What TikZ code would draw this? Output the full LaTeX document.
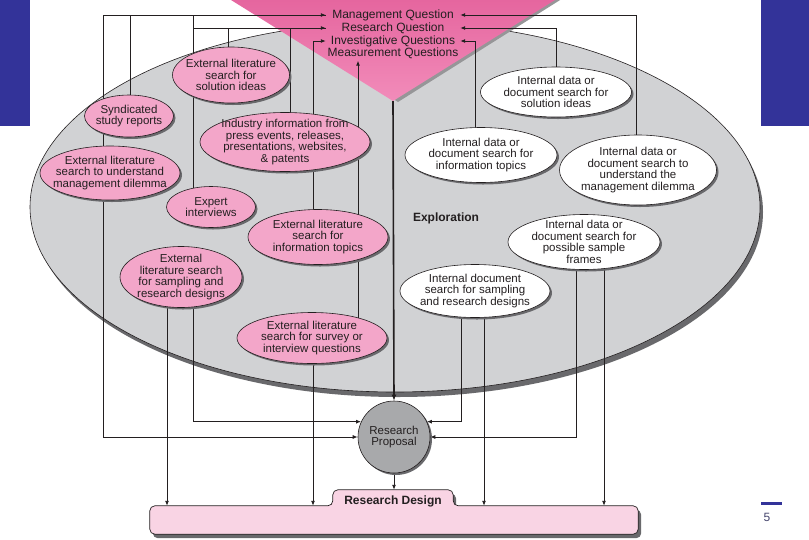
\documentclass[tikz,border=0pt]{standalone}
\usepackage{fontspec}
\setmainfont{Liberation Sans}
\usetikzlibrary{arrows.meta,shadows,calc,shapes.geometric}
\pgfdeclarelayer{bg}
\pgfdeclarelayer{lines}
\pgfsetlayers{bg,lines,main}

\definecolor{bluebar}{RGB}{51,51,153}
\definecolor{ellgray}{RGB}{209,210,212}
\definecolor{shadowgray}{RGB}{105,105,108}
\definecolor{trishadow}{RGB}{150,150,152}
\definecolor{pinknode}{RGB}{243,166,201}
\definecolor{tritop}{RGB}{228,98,156}
\definecolor{tribot}{RGB}{242,140,186}
\definecolor{propgray}{RGB}{168,169,171}
\definecolor{designpink}{RGB}{249,212,228}
\definecolor{ink}{RGB}{35,31,32}
\definecolor{pagenum}{RGB}{70,70,110}

\tikzset{
  bubble/.style={ellipse, draw=ink, line width=0.6pt, inner sep=0pt,
    drop shadow={shadow xshift=2pt, shadow yshift=-2pt, fill=shadowgray, opacity=1}},
  pinkbubble/.style={bubble, fill=pinknode},
  whitebubble/.style={bubble, fill=white},
  txt/.style={align=center, font=\fontsize{11.5}{11.5}\selectfont, text=ink, inner sep=0pt},
  qlabel/.style={font=\fontsize{12}{13}\selectfont, text=ink, minimum width=134pt, inner xsep=0pt, inner ysep=2pt},
  ln/.style={draw=ink, line width=0.9pt},
  arr/.style={ln, -{Latex[length=5pt,width=4pt]}},
  arrthick/.style={draw=ink, line width=1.6pt, -{Latex[length=6pt,width=5pt]}},
}

\begin{document}
\begin{tikzpicture}[x=1pt, y=-1pt]
\useasboundingbox (0,0) rectangle (809,539);

% ---------- background shapes ----------
\begin{pgfonlayer}{bg}
  \fill[white] (0,0) rectangle (809,539);
  \fill[bluebar] (0,0) rectangle (30,126);
  \fill[bluebar] (761,0) rectangle (809,126);
  \fill[shadowgray] (398,212) ellipse [x radius=365pt, y radius=185pt];
  \filldraw[fill=ellgray, draw=ink, line width=0.6pt] (395,207) ellipse [x radius=365pt, y radius=185pt];
  \fill[trishadow] (220,-10) -- (576,-10) -- (398,102) -- cycle;
  \shade[top color=tritop, bottom color=tribot]
    (215,-10) -- (571,-10) -- (393,101) -- cycle;
\end{pgfonlayer}

\coordinate (tri) at (393,101);

% ---------- question labels ----------
\node[qlabel] (mq)  at (393,15) {Management Question};
\node[qlabel] (rq)  at (393,28) {Research Question};
\node[qlabel] (iq)  at (393,41) {Investigative Questions};
\node[qlabel] (msq) at (393,53) {Measurement Questions};

% ---------- pink nodes ----------
\node[pinkbubble, minimum width=117pt, minimum height=56pt] (n1) at (231,75) {};
\node[txt] (n1t) at (n1) {External literature\\search for\\solution ideas};
\node[pinkbubble, minimum width=89pt, minimum height=42pt] (n2) at (129,116) {};
\node[txt] (n2t) at (n2) {Syndicated\\study reports};
\node[pinkbubble, minimum width=140pt, minimum height=54pt] (n3) at (110,173) {};
\node[txt] (n3t) at (n3) {External literature\\search to understand\\management dilemma};
\node[pinkbubble, minimum width=170pt, minimum height=59pt] (n4) at (285,142) {};
\node[txt] (n4t) at (n4) {Industry information from\\press events, releases,\\presentations, websites,\\\& patents};
\node[pinkbubble, minimum width=89pt, minimum height=41pt] (n5) at (211,207) {};
\node[txt] (n5t) at (n5) {Expert\\interviews};
\node[pinkbubble, minimum width=140pt, minimum height=55pt] (n6) at (318,237) {};
\node[txt] (n6t) at (n6) {External literature\\search for\\information topics};
\node[pinkbubble, minimum width=122pt, minimum height=61pt] (n7) at (181,277) {};
\node[txt] (n7t) at (n7) {External\\literature search\\for sampling and\\research designs};
\node[pinkbubble, minimum width=150pt, minimum height=51pt] (n8) at (312,338) {};
\node[txt] (n8t) at (n8) {External literature\\search for survey or\\interview questions};

% ---------- white nodes ----------
\node[whitebubble, minimum width=151pt, minimum height=50pt] (w1) at (556,92) {};
\node[txt] (w1t) at (w1) {Internal data or\\document search for\\solution ideas};
\node[whitebubble, minimum width=152pt, minimum height=55pt] (w2) at (481,155) {};
\node[txt] (w2t) at (w2) {Internal data or\\document search for\\information topics};
\node[whitebubble, minimum width=157pt, minimum height=70pt] (w3) at (638,170) {};
\node[txt] (w3t) at (w3) {Internal data or\\document search to\\understand the\\management dilemma};
\node[whitebubble, minimum width=152pt, minimum height=55pt] (w4) at (584,242) {};
\node[txt] (w4t) at (w4) {Internal data or\\document search for\\possible sample\\frames};
\node[whitebubble, minimum width=150pt, minimum height=53pt] (w5) at (475,291) {};
\node[txt] (w5t) at (w5) {Internal document\\search for sampling\\and research designs};

\node[font=\bfseries\fontsize{12}{14}\selectfont, text=ink] (expl) at (446,218) {Exploration};

% ---------- research proposal ----------
\node[circle, minimum size=72pt, fill=propgray, draw=ink, line width=0.6pt, txt,
  drop shadow={shadow xshift=2pt, shadow yshift=-2pt, fill=shadowgray, opacity=1}] (rp) at (394,437) {Research\\Proposal};

% ---------- research design ----------
\node[minimum width=488pt, minimum height=28pt, inner sep=0pt] (rd) at (394,520) {};
\node[minimum width=120pt, minimum height=16pt, inner sep=0pt] (rdtab) at (393,498) {};
\begin{scope}[transform canvas={shift={(3pt,-4pt)}}]
  \fill[shadowgray, rounded corners=5pt] (rd.north west) -- (rd.north west -| rdtab.west) -- (rdtab.north west) -- (rdtab.north east) -- (rd.north east -| rdtab.east) -- (rd.north east) -- (rd.south east) -- (rd.south west) -- cycle;
\end{scope}
\filldraw[fill=designpink, draw=ink, line width=0.7pt, rounded corners=5pt] (rd.north west) -- (rd.north west -| rdtab.west) -- (rdtab.north west) -- (rdtab.north east) -- (rd.north east -| rdtab.east) -- (rd.north east) -- (rd.south east) -- (rd.south west) -- cycle;
\node[font=\bfseries\fontsize{12}{14}\selectfont, text=ink] (rdt) at (393,501) {Research Design};

% ---------- page number ----------
\coordinate (pl) at (761,503);
\coordinate (pr) at (782,503);
\draw[bluebar, line width=3pt] (pl) -- (pr);
\node[font=\fontsize{12}{14}\selectfont, text=pagenum] (pg) at (767,517) {5};

% ---------- connector x positions ----------
\coordinate (c103) at (103,0);
\coordinate (c130) at (130,0);
\coordinate (c167) at (167,0);
\coordinate (c193) at (193,0);
\coordinate (c228) at (228,0);
\coordinate (c290) at (290,0);
\coordinate (c313) at (313,0);
\coordinate (c358) at (358,0);
\coordinate (c461) at (461,0);
\coordinate (c475) at (475,0);
\coordinate (c484) at (484,0);
\coordinate (c556) at (556,0);
\coordinate (c576) at (576,0);
\coordinate (c604) at (604,0);
\coordinate (c636) at (636,0);

\begin{pgfonlayer}{lines}
  % to the questions
  \draw[arr] (n3.center -| c103) |- (mq.west);
  \draw[ln]  (n2.center -| c130) |- (mq.west);
  \draw[arr] (n5.center -| c193) |- (rq.west);
  \draw[ln]  (c193 |- rq.west) -- (c193 |- mq.west);
  \draw[ln]  (n1.center -| c228) |- (rq.west);
  \draw[ln]  (n4.center -| c290) |- (rq.west);
  \draw[arr] (n6.center -| c313) |- (iq.west);
  \draw[arr] (n8.center -| c358) -- (c358 |- msq.south);
  \draw[arr] (w3.center -| c636) |- (mq.east);
  \draw[arr] (w1.center -| c556) |- (rq.east);
  \draw[arr] (w2.center -| c475) |- (iq.east);
  % centre line
  \draw[arrthick] (tri) -- (rp.north);
  % to the proposal
  \draw[arr] (n3.center -| c103) |- (rp.west);
  \draw[arr] (n7.center -| c193) |- (rp.155);
  \draw[arr] (w5.center -| c461) |- (rp.25);
  \draw[arr] (w4.center -| c576) |- (rp.east);
  % to the design
  \draw[arr] (n7.center -| c167) -- (c167 |- rd.north);
  \draw[arr] (n8.center -| c313) -- (c313 |- rd.north);
  \draw[arr] (w5.center -| c484) -- (c484 |- rd.north);
  \draw[arr] (w4.center -| c604) -- (c604 |- rd.north);
  \draw[arr] (rp.south) -- (rp.south |- rdtab.north);
\end{pgfonlayer}
\end{tikzpicture}
\end{document}
